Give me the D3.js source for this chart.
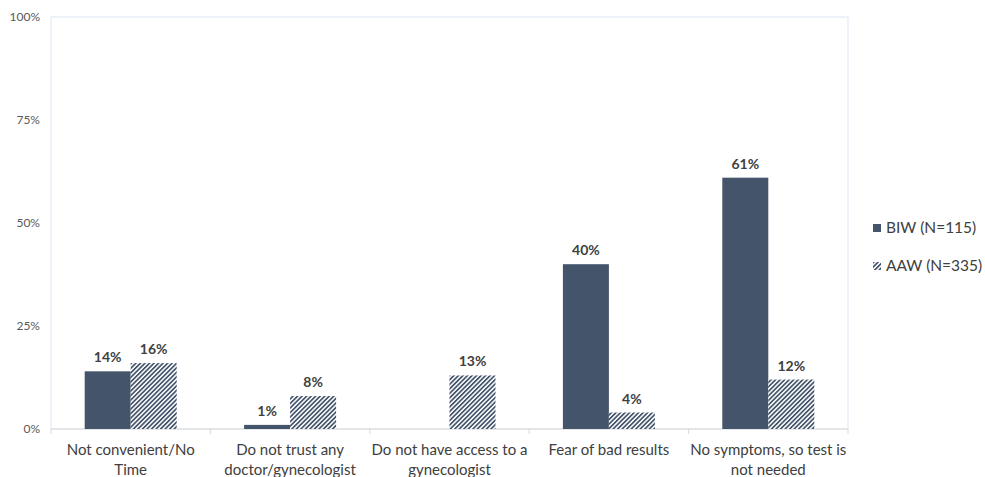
<!DOCTYPE html>
<html>
<head>
<meta charset="utf-8">
<script src="https://cdn.jsdelivr.net/npm/d3@7"></script>
<style>
  body { margin: 0; background: #fff; }
  svg text { font-family: Lato, "Open Sans", sans-serif; }
</style>
</head>
<body>
<svg id="svg"></svg>
<script>
// chart data
var categories = [
  ["Not convenient/No", "Time"],
  ["Do not trust any", "doctor/gynecologist"],
  ["Do not have access to a", "gynecologist"],
  ["Fear of bad results"],
  ["No symptoms, so test is", "not needed"]
];
var seriesNames = ["BIW (N=115)", "AAW (N=335)"];
var biw = [14, 1, 0, 40, 61];
var aaw = [16, 8, 13, 4, 12];
var yTicks = [0, 25, 50, 75, 100];

var width = 985, height = 477;
var margin = {top: 17, right: 137, bottom: 48, left: 51};
var innerW = width - margin.left - margin.right,
    innerH = height - margin.top - margin.bottom;
var barColor = "#44546a";

var svg = d3.select("#svg")
    .attr("width", width)
    .attr("height", height);

// hatch pattern for the second series
var defs = svg.append("defs");
var pat = defs.append("pattern")
    .attr("id", "hatch")
    .attr("patternUnits", "userSpaceOnUse")
    .attr("width", 3.2)
    .attr("height", 3.2)
    .attr("patternTransform", "rotate(45)");
pat.append("rect").attr("width", 3.2).attr("height", 3.2).attr("fill", "#fff");
pat.append("rect").attr("width", 1.7).attr("height", 3.2).attr("fill", barColor);

var g = svg.append("g")
    .attr("transform", "translate(" + margin.left + "," + margin.top + ")");

// plot area border
g.append("rect")
    .attr("x", 0).attr("y", 0)
    .attr("width", innerW).attr("height", innerH)
    .attr("fill", "none")
    .attr("stroke", "#dde7f4")
    .attr("stroke-width", 1);

var x0 = d3.scaleBand()
    .domain(d3.range(categories.length))
    .range([0, innerW]);
var x1 = d3.scaleBand()
    .domain([0, 1])
    .range([x0.bandwidth() / 2 - 46, x0.bandwidth() / 2 + 46]);
var y = d3.scaleLinear()
    .domain([0, 100])
    .range([innerH, 0]);

// y axis labels
g.append("g")
    .selectAll("text")
    .data(yTicks)
    .join("text")
    .attr("x", -11)
    .attr("y", d => y(d))
    .attr("dy", "0.35em")
    .attr("text-anchor", "end")
    .attr("font-size", 12)
    .attr("fill", "#595959")
    .text(d => d + "%");

// baseline and category ticks
g.append("line")
    .attr("x1", 0).attr("x2", innerW)
    .attr("y1", innerH).attr("y2", innerH)
    .attr("stroke", "#d9d9d9");
g.append("g")
    .selectAll("line")
    .data(d3.range(categories.length + 1))
    .join("line")
    .attr("x1", d => d * x0.step())
    .attr("x2", d => d * x0.step())
    .attr("y1", innerH)
    .attr("y2", innerH + 5)
    .attr("stroke", "#d9d9d9");

var series = [biw, aaw];
var fills = [barColor, "url(#hatch)"];

series.forEach(function(vals, si) {
  var grp = g.append("g");
  grp.selectAll("rect")
      .data(vals)
      .join("rect")
      .attr("x", (d, i) => x0(i) + x1(si))
      .attr("width", x1.bandwidth())
      .attr("y", d => y(d))
      .attr("height", d => innerH - y(d))
      .attr("fill", fills[si]);
  grp.selectAll("text")
      .data(vals)
      .join("text")
      .attr("x", (d, i) => x0(i) + x1(si) + x1.bandwidth() / 2)
      .attr("y", d => y(d) - 9)
      .attr("text-anchor", "middle")
      .attr("font-size", 14)
      .attr("font-weight", "bold")
      .attr("fill", "#404040")
      .text(d => d > 0 ? d + "%" : "");
});

// category labels
var cat = g.append("g")
    .selectAll("text")
    .data(categories)
    .join("text")
    .attr("x", (d, i) => x0(i) + x0.bandwidth() / 2)
    .attr("y", innerH + 26)
    .attr("text-anchor", "middle")
    .attr("font-size", 15)
    .attr("fill", "#404040");
cat.selectAll("tspan")
    .data(d => d)
    .join("tspan")
    .attr("x", function() { return this.parentNode.getAttribute("x"); })
    .attr("dy", (d, i) => i === 0 ? 0 : 20)
    .text(d => d);

// legend
var legend = svg.append("g")
    .selectAll("g")
    .data(seriesNames)
    .join("g")
    .attr("transform", (d, i) => "translate(873," + (228 + i * 38) + ")");
legend.append("rect")
    .attr("x", 0).attr("y", -4)
    .attr("width", 8).attr("height", 8)
    .attr("fill", (d, i) => fills[i]);
legend.append("text")
    .attr("x", 13)
    .attr("dy", "0.35em")
    .attr("font-size", 15.5)
    .attr("fill", "#404040")
    .text(d => d);
</script>
</body>
</html>
